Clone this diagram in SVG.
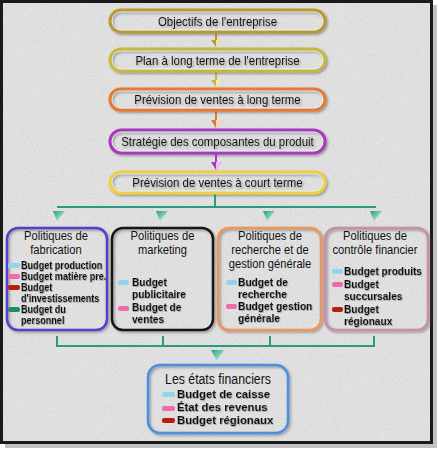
<svg xmlns="http://www.w3.org/2000/svg" width="438" height="451" viewBox="0 0 438 451">
<defs>
<filter id="tex" x="0" y="0" width="1" height="1">
<feTurbulence type="fractalNoise" baseFrequency="0.9" numOctaves="2" seed="4"/>
<feColorMatrix type="matrix" values="1 0 0 0 0  1 0 0 0 0  1 0 0 0 0  0 0 0 0 0.16"/>
</filter>
<filter id="sh" x="-10%" y="-10%" width="125%" height="130%">
<feDropShadow dx="1.5" dy="1.5" stdDeviation="1" flood-color="#555" flood-opacity="0.55"/>
</filter>
<filter id="tsh" x="-5%" y="-20%" width="115%" height="150%">
<feDropShadow dx="0.6" dy="0.7" stdDeviation="0.3" flood-color="#777" flood-opacity="0.8"/>
</filter>
<linearGradient id="tealG" x1="0" y1="0" x2="1" y2="1">
<stop offset="0" stop-color="#2a9a80"/><stop offset="0.55" stop-color="#7fd0bc"/><stop offset="1" stop-color="#ffffff"/>
</linearGradient>
<style>
.frame{fill:#e6e6e6}
.tb{fill:none;stroke-width:3}
.hl{fill:none;stroke:#fff;stroke-opacity:0.6;stroke-width:1}
.bx{fill:none;stroke-width:2.5}
.t1{font-family:"Liberation Sans",Arial,sans-serif;font-size:13px;fill:#111;text-anchor:middle}
.hd{font-family:"Liberation Sans",Arial,sans-serif;font-size:13px;fill:#111;text-anchor:middle}
.it{font-family:"Liberation Sans",Arial,sans-serif;font-size:11px;font-weight:bold;fill:#111}
.it1{font-family:"Liberation Sans",Arial,sans-serif;font-size:10px;font-weight:bold;fill:#111}
.bh{font-family:"Liberation Sans",Arial,sans-serif;font-size:15px;fill:#111;text-anchor:middle}
.cy{fill:#8fd6ec}.pk{fill:#f06aa8}.rd{fill:#b81e10}.tl{fill:#1e8c6c}
.con{fill:none;stroke:#2a9a80;stroke-width:2}
</style>
</defs>
<rect x="0" y="0" width="438" height="451" fill="#ffffff"/>
<rect x="5" y="5" width="432" height="443" fill="#9a9a9a" opacity="0.6"/>
<rect x="1.5" y="1.5" width="430" height="441" class="frame" stroke="#1a1a1a" stroke-width="3"/>
<rect x="3" y="3" width="427" height="438" filter="url(#tex)"/>

<g id="connectors">
<g id="arr1"><path d="M215 33 L217 33 L217 40 L222 40 L216 47 L211 40 L215 40 Z" fill="#b89a30"/><path d="M216 40 L222 40 L216 47 Z" fill="#fff" opacity="0.7"/></g>
<g id="arr2"><path d="M215 72 L217 72 L217 80 L222 80 L216 87 L211 80 L215 80 Z" fill="#c8b838"/><path d="M216 80 L222 80 L216 87 Z" fill="#fff" opacity="0.7"/></g>
<g id="arr3"><path d="M215 111 L217 111 L217 120 L222 120 L216 128 L211 120 L215 120 Z" fill="#e87830"/><path d="M216 120 L222 120 L216 128 Z" fill="#fff" opacity="0.7"/></g>
<g id="arr4"><path d="M215 154 L217 154 L217 162 L222 162 L216 170 L211 162 L215 162 Z" fill="#a838c0"/><path d="M216 162 L222 162 L216 170 Z" fill="#fff" opacity="0.7"/></g>
<path class="con" d="M215 193 V207 M57 207 H376"/>
<g fill="url(#tealG)">
<path d="M53 211 L65 211 L57 221 Z"/>
<path d="M156 211 L168 211 L160 221 Z"/>
<path d="M263 211 L275 211 L267 221 Z"/>
<path d="M370 211 L382 211 L374 221 Z"/>
</g>
<path class="con" d="M57 336 V346 H374 V336 M163 336 V346 M270 336 V346"/>
<path d="M211 350 L224 350 L217 361 Z" fill="url(#tealG)"/>
</g>

<g id="n1" filter="url(#sh)"><rect x="110" y="10" width="215" height="22" rx="11" class="tb" stroke="#b89a30"/><rect x="112" y="12" width="211" height="18" rx="9" class="hl"/>
<text class="t1" transform="translate(217.5 26) scale(0.88 1)">Objectifs de l'entreprise</text></g>
<g id="n2" filter="url(#sh)"><rect x="110" y="49" width="215" height="22" rx="11" class="tb" stroke="#c8b838"/><rect x="112" y="51" width="211" height="18" rx="9" class="hl"/>
<text class="t1" transform="translate(217.5 65) scale(0.88 1)">Plan à long terme de l'entreprise</text></g>
<g id="n3" filter="url(#sh)"><rect x="110" y="89" width="215" height="21" rx="10.5" class="tb" stroke="#e87830"/><rect x="112" y="91" width="211" height="17" rx="8.5" class="hl"/>
<text class="t1" transform="translate(217.5 104) scale(0.88 1)">Prévision de ventes à long terme</text></g>
<g id="n4" filter="url(#sh)"><rect x="110" y="130" width="215" height="23" rx="11.5" class="tb" stroke="#a838c0"/><rect x="112" y="132" width="211" height="19" rx="9.5" class="hl"/>
<text class="t1" transform="translate(217.5 146) scale(0.88 1)">Stratégie des composantes du produit</text></g>
<g id="n5" filter="url(#sh)"><rect x="110" y="172" width="215" height="21" rx="10.5" class="tb" stroke="#f0d040"/><rect x="112" y="174" width="211" height="17" rx="8.5" class="hl"/>
<text class="t1" transform="translate(217.5 187) scale(0.88 1)">Prévision de ventes à court terme</text></g>

<g id="b1">
<rect x="7" y="228" width="100" height="102" rx="11" class="bx" stroke="#5a3cc8" filter="url(#sh)"/>
<text class="hd" transform="translate(56 240) scale(0.86 1)">Politiques de</text>
<text class="hd" transform="translate(56 254) scale(0.86 1)">fabrication</text>
<rect x="8" y="263" width="12" height="5" rx="2" class="cy"/>
<rect x="8" y="274" width="12" height="5" rx="2" class="pk"/>
<rect x="8" y="285" width="12" height="5" rx="2" class="rd"/>
<rect x="8" y="307" width="12" height="5" rx="2" class="tl"/>
<g filter="url(#tsh)">
<text class="it1" transform="translate(21 268.5) scale(0.91 1)">Budget production</text>
<text class="it1" transform="translate(21 279.5) scale(0.91 1)">Budget matière pre.</text>
<text class="it1" transform="translate(21 290.5) scale(0.91 1)">Budget</text>
<text class="it1" transform="translate(21 301.5) scale(0.91 1)">d'investissements</text>
<text class="it1" transform="translate(21 312.5) scale(0.91 1)">Budget du</text>
<text class="it1" transform="translate(21 323.5) scale(0.91 1)">personnel</text>
</g>
</g>

<g id="b2">
<rect x="112" y="228" width="101" height="102" rx="11" class="bx" stroke="#151515" filter="url(#sh)"/>
<text class="hd" transform="translate(162.5 240) scale(0.86 1)">Politiques de</text>
<text class="hd" transform="translate(162.5 254) scale(0.86 1)">marketing</text>
<rect x="118" y="280" width="11" height="5" rx="2" class="cy"/>
<rect x="118" y="306" width="11" height="5" rx="2" class="pk"/>
<g filter="url(#tsh)">
<text class="it" transform="translate(132 286) scale(0.92 1)">Budget</text>
<text class="it" transform="translate(132 298) scale(0.92 1)">publicitaire</text>
<text class="it" transform="translate(132 311) scale(0.92 1)">Budget de</text>
<text class="it" transform="translate(132 323) scale(0.92 1)">ventes</text>
</g>
</g>

<g id="b3">
<rect x="218" y="228" width="103" height="102" rx="11" class="bx" stroke="#f0955a" filter="url(#sh)"/>
<text class="hd" transform="translate(270 240) scale(0.86 1)">Politiques de</text>
<text class="hd" transform="translate(270 254) scale(0.86 1)">recherche et de</text>
<text class="hd" transform="translate(270 268) scale(0.86 1)">gestion générale</text>
<rect x="226" y="280" width="11" height="5" rx="2" class="cy"/>
<rect x="226" y="304" width="11" height="5" rx="2" class="pk"/>
<g filter="url(#tsh)">
<text class="it" transform="translate(238 286) scale(0.93 1)">Budget de</text>
<text class="it" transform="translate(238 298) scale(0.93 1)">recherche</text>
<text class="it" transform="translate(238 310) scale(0.93 1)">Budget gestion</text>
<text class="it" transform="translate(238 322) scale(0.93 1)">générale</text>
</g>
</g>

<g id="b4">
<rect x="325" y="228" width="103" height="102" rx="11" class="bx" stroke="#c890a8" filter="url(#sh)"/>
<text class="hd" transform="translate(375 240) scale(0.86 1)">Politiques de</text>
<text class="hd" transform="translate(375 254) scale(0.86 1)">contrôle financier</text>
<rect x="332" y="269" width="11" height="5" rx="2" class="cy"/>
<rect x="332" y="282" width="11" height="5" rx="2" class="pk"/>
<rect x="332" y="307" width="11" height="5" rx="2" class="rd"/>
<g filter="url(#tsh)">
<text class="it" transform="translate(344 275) scale(0.92 1)">Budget produits</text>
<text class="it" transform="translate(344 288) scale(0.92 1)">Budget</text>
<text class="it" transform="translate(344 300) scale(0.92 1)">succursales</text>
<text class="it" transform="translate(344 313) scale(0.92 1)">Budget</text>
<text class="it" transform="translate(344 325) scale(0.92 1)">régionaux</text>
</g>
</g>

<g id="b5">
<rect x="148" y="365" width="140" height="68" rx="12" class="bx" stroke="#4a90e0" filter="url(#sh)"/>
<text class="bh" transform="translate(218 384) scale(0.82 1)">Les états financiers</text>
<rect x="162" y="392" width="13" height="5" rx="2" class="cy"/>
<rect x="162" y="406" width="13" height="5" rx="2" class="pk"/>
<rect x="162" y="418" width="13" height="5" rx="2" class="rd"/>
<g filter="url(#tsh)">
<text class="it" transform="translate(177 398) scale(1.03 1)">Budget de caisse</text>
<text class="it" transform="translate(177 411) scale(1.03 1)">État des revenus</text>
<text class="it" transform="translate(177 424) scale(1.03 1)">Budget régionaux</text>
</g>
</g>
</svg>
